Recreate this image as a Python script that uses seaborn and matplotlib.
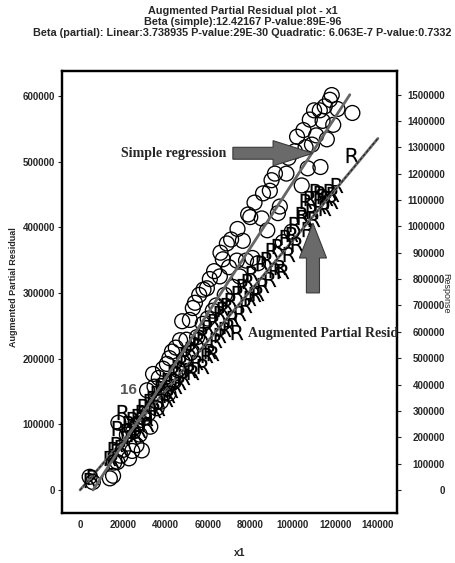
import numpy as np
import matplotlib
matplotlib.use("Agg")
import matplotlib.pyplot as plt
from matplotlib.patches import FancyArrow
from matplotlib.ticker import FuncFormatter
import seaborn as sns

# dados (x1 e valores em milhares)
x1 = [4.5, 6, 14, 15.5, 16, 17.5, 18, 19, 20.2, 22, 23, 24.5, 25, 26.5, 27, 28, 29, 30,
      31.5, 32, 33, 34.3, 35, 36, 37, 38, 39, 40.8, 41.5, 42, 43.2, 44, 45, 46, 47, 48,
      49, 50, 51.6, 52, 53, 54, 55, 56, 57.7, 58, 59.6, 60, 61, 62.4, 63, 64, 65.7, 66,
      67.1, 68, 69, 70, 71, 72, 73.7, 74, 75, 76.5, 78, 79, 80, 81, 82, 83.6, 85.4, 86,
      88, 89.2, 90, 91.6, 93, 93.9, 95.3, 97, 98, 99.5, 101, 102, 104.2, 105, 106, 107,
      108, 109, 110, 111, 112.7, 113, 114, 115, 116, 117.4, 118.3, 119, 121, 128]
response = [50, 30, 44, 54, 104, 106, 255, 130, 152, 210, 120, 148, 222, 170, 250, 210, 150, 275,
            378, 290, 240, 440, 392, 310, 425, 335, 460, 478, 365, 500, 525, 410, 540, 455, 568, 640,
            495, 570, 645, 520, 690, 710, 580, 740, 630, 760, 765, 650, 800, 680, 830, 700, 810, 900,
            875, 740, 935, 845, 950, 770, 870, 990, 810, 945, 870, 1045, 1035, 880, 1090, 860, 1030, 1125,
            985, 1135, 1175, 1200, 1050, 1075, 940, 1200, 1260, 980, 1285, 1340, 1155, 1365, 1300, 1220,
            1405, 1310, 1440, 1345, 1440, 1225, 1400, 1455, 1330, 1480, 1498, 1385, 1445, 1430]
partial_resid = [15, 20, 48, 45, 62, 70, 95, 66, 118, 90, 102, 80, 108, 85, 112, 92, 118, 128,
                 110, 100, 135, 140, 122, 148, 125, 155, 160, 138, 168, 145, 152, 180, 158, 188, 165, 195,
                 172, 205, 182, 215, 180, 222, 195, 230, 189, 238, 205, 248, 212, 208, 258, 228, 270, 236,
                 275, 245, 282, 250, 290, 262, 240, 300, 270, 310, 282, 318, 292, 330, 298, 300, 345, 312,
                 352, 322, 365, 335, 372, 340, 334, 385, 360, 390, 405, 375, 420, 415, 440, 398,
                 445, 425, 412, 455, 453, 432, 448, 430, 445, 455, 440, 450, 465, 510]
x1 = np.array(x1) * 1000
response = np.array(response) * 1000
partial_resid = np.array(partial_resid) * 1000

beta_simple = 12.42167
intercept_simple = -75800
beta_lin = 3.738935
beta_quad = 6.063e-7
ponto_rotulo = 8  # observacao 16

sns.set_style("white")
plt.rcParams['font.family'] = ['Liberation Sans', 'DejaVu Sans']

fig = plt.figure(figsize=(4.55, 5.63), dpi=100)
ax = fig.add_axes([0.1363, 0.0888, 0.7363, 0.785])
ax2 = ax.twinx()

# residuos parciais aumentados (eixo esquerdo)
sns.scatterplot(x=x1, y=partial_resid, ax=ax, marker=r'$\mathsf{R}$', s=120,
                color='black', linewidth=0, zorder=3)
xq = np.linspace(0, 140000, 100)
sns.lineplot(x=xq, y=beta_lin * xq + beta_quad * xq ** 2, ax=ax, color='#6a6a6a', lw=2, zorder=4)
ax.plot(xq, beta_lin * xq + beta_quad * xq ** 2, color='#1a1a1a', lw=0.7, ls=(0, (3, 2)), zorder=5)
ax.annotate("16", xy=(x1[ponto_rotulo], partial_resid[ponto_rotulo]), xytext=(3.6, 16.5),
            textcoords='offset points', ha='center', va='center', fontsize=11,
            fontweight='bold', color='#555555')

# resposta (eixo direito)
sns.scatterplot(x=x1, y=response, ax=ax2, marker='o', s=115, facecolors='none',
                edgecolor='black', linewidth=0.95, zorder=3)
xs = np.linspace(6100, 126800, 100)
sns.lineplot(x=xs, y=beta_simple * xs + intercept_simple, ax=ax2, color='#666666', lw=2, zorder=4)

ax.set_xlim(-8500, 149000)
ax.set_ylim(-35100, 638000)
ax2.set_ylim(-87400, 1589000)
ax.set_xticks(np.arange(0, 140001, 20000))
ax.set_yticks(np.arange(0, 600001, 100000))
ax2.set_yticks(np.arange(0, 1500001, 100000))
fmt = FuncFormatter(lambda v, p: f"{v:.0f}")
ax.xaxis.set_major_formatter(fmt)
ax.yaxis.set_major_formatter(fmt)
ax2.yaxis.set_major_formatter(fmt)
ax.set_xlabel("")
ax.set_ylabel("")
ax2.set_ylabel("")

for a in (ax, ax2):
    for s in a.spines.values():
        s.set_linewidth(1.6)
        s.set_color('black')
ax.tick_params(axis='both', direction='out', length=3, width=0.8, labelsize=7, pad=2)
ax2.tick_params(axis='y', direction='out', length=3, width=0.8, labelsize=7, pad=31.5)
plt.setp(ax.get_xticklabels() + ax.get_yticklabels() + ax2.get_yticklabels(), fontweight='bold')
plt.setp(ax2.get_yticklabels(), ha='right')

# setas e textos
ax2.add_patch(FancyArrow(0.510, 0.814, 0.239, 0, width=0.027, head_width=0.057,
                         head_length=0.119, length_includes_head=True, transform=ax2.transAxes,
                         fc='#6a6a6a', ec='#3a3a3a', lw=0.8, zorder=6))
ax2.add_patch(FancyArrow(0.749, 0.498, 0, 0.158, width=0.039, head_width=0.081,
                         head_length=0.079, length_includes_head=True, transform=ax2.transAxes,
                         fc='#6a6a6a', ec='#3a3a3a', lw=0.8, zorder=6))
ax2.text(0.49, 0.814, "Simple regression", transform=ax2.transAxes, ha='right', va='center',
         fontsize=10, fontweight='bold', family='Liberation Serif', zorder=6)
ax2.text(0.555, 0.407, "Augmented Partial Residual", transform=ax2.transAxes, ha='left',
         va='center', fontsize=10, fontweight='bold', family='Liberation Serif', clip_on=True, zorder=6)

fig.text(0.533, 0.989, "Augmented Partial Residual plot - x1\nBeta (simple):12.42167 P-value:89E-96\n"
         "Beta (partial): Linear:3.738935 P-value:29E-30 Quadratic: 6.063E-7 P-value:0.7332",
         ha='center', va='top', fontsize=7.8, fontweight='bold', linespacing=1.1)
fig.text(0.527, 0.009, "x1", ha='center', va='bottom', fontsize=7.5, fontweight='bold')
fig.text(14 / 455, 1 - 287 / 563, "Augmented Partial Residual", rotation=90, ha='center',
         va='center', fontsize=6.5, fontweight='bold')
fig.text(446 / 455, 1 - 293 / 563, "Response", rotation=-90, ha='center', va='center', fontsize=6.5)

fig.savefig("out.png", dpi=100)
